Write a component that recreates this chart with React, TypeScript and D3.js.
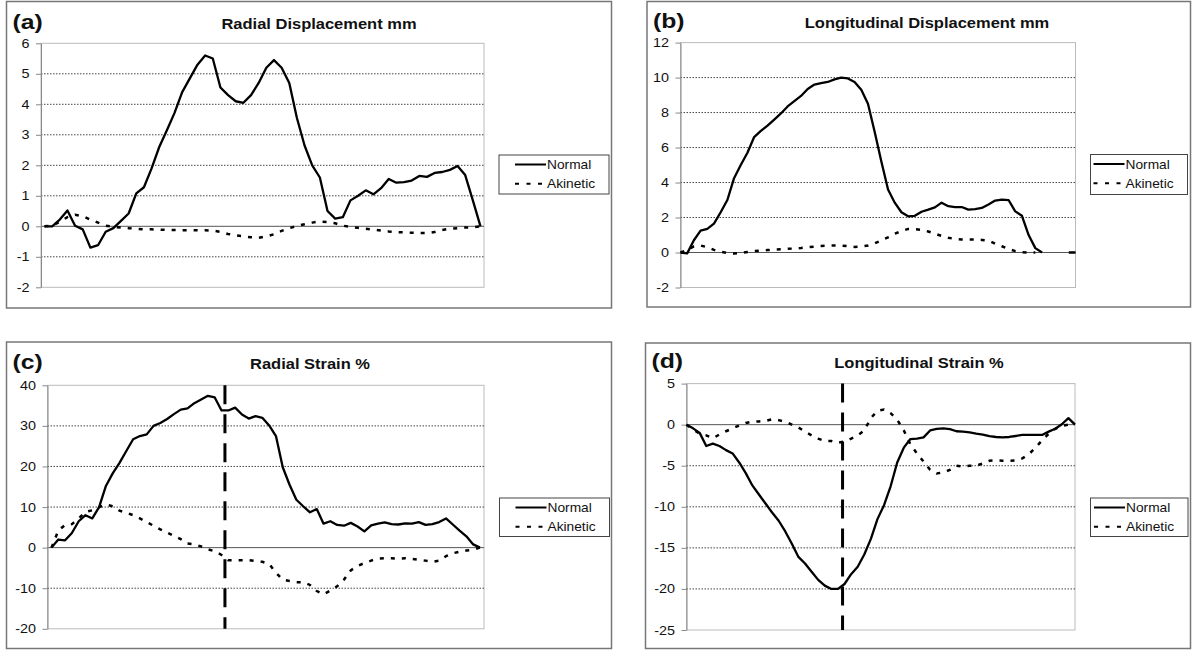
import React, { useEffect, useRef } from 'react';
import * as d3 from 'd3';

const seriesNames = ['Normal', 'Akinetic'];

// (a) radial displacement, mm
const radialDispTicks = [-2, -1, 0, 1, 2, 3, 4, 5, 6];
const radialDispNormal = [
  0, 0, 0.22, 0.52, 0.02, -0.1, -0.7, -0.62, -0.18, -0.06,
  0.18, 0.42, 1.08, 1.28, 1.9, 2.6, 3.15, 3.72, 4.4, 4.85,
  5.3, 5.6, 5.5, 4.55, 4.3, 4.1, 4.05, 4.3, 4.7, 5.2,
  5.45, 5.2, 4.7, 3.55, 2.65, 2.0, 1.6, 0.5, 0.25, 0.3,
  0.85, 1.0, 1.18, 1.05, 1.25, 1.55, 1.43, 1.45, 1.5, 1.65,
  1.62, 1.75, 1.78, 1.85, 1.98, 1.68, 0.85, 0,
];
const radialDispAkinetic = [
  0, 0.02, 0.15, 0.3, 0.38, 0.33, 0.22, 0.12, 0.02, -0.02,
  -0.04, -0.06, -0.08, -0.1, -0.1, -0.11, -0.12, -0.12, -0.13, -0.13,
  -0.13, -0.13, -0.14, -0.18, -0.25, -0.3, -0.33, -0.36, -0.38, -0.33,
  -0.26, -0.15, -0.06, 0.01, 0.07, 0.12, 0.16, 0.14, 0.1, 0.02,
  -0.02, -0.05, -0.08, -0.11, -0.14, -0.17, -0.19, -0.2, -0.21, -0.22,
  -0.22, -0.19, -0.12, -0.08, -0.06, -0.04, -0.03, 0,
];

// (b) longitudinal displacement, mm
const longDispTicks = [-2, 0, 2, 4, 6, 8, 10, 12];
const longDispNormal = [
  0, -0.05, 0.7, 1.25, 1.35, 1.65, 2.3, 3.0, 4.25, 5.0,
  5.7, 6.6, 6.95, 7.25, 7.6, 7.95, 8.35, 8.65, 8.95, 9.35,
  9.6, 9.68, 9.75, 9.9, 10.0, 9.95, 9.75, 9.3, 8.5, 6.9,
  5.2, 3.6, 2.85, 2.3, 2.07, 2.1, 2.33, 2.45, 2.58, 2.85,
  2.65, 2.6, 2.6, 2.45, 2.48, 2.55, 2.75, 2.97, 3.02, 3.0,
  2.35, 2.1, 1.0, 0.25, 0, null, null, null, 0, 0,
];
const longDispAkinetic = [
  0, 0.15, 0.35, 0.4, 0.3, 0.15, 0.05, -0.03, -0.06, -0.03,
  0.03, 0.08, 0.11, 0.14, 0.17, 0.19, 0.21, 0.23, 0.26, 0.3,
  0.34, 0.37, 0.39, 0.4, 0.4, 0.36, 0.32, 0.34, 0.4, 0.52,
  0.7, 0.87, 1.08, 1.22, 1.35, 1.33, 1.3, 1.2, 1.08, 0.95,
  0.84, 0.78, 0.75, 0.74, 0.74, 0.72, 0.68, 0.5, 0.36, 0.21,
  0.08, 0.02, 0, 0, null, null, null, null, null, null,
];

// (c) radial strain, %
const radialStrainTicks = [-20, -10, 0, 10, 20, 30, 40];
const radialStrainNormal = [
  0, 2.0, 1.8, 3.6, 6.5, 8.0, 7.2, 10, 15.2, 18.3,
  20.9, 23.8, 26.7, 27.5, 27.9, 30.0, 30.7, 31.7, 32.9, 34.0,
  34.3, 35.6, 36.5, 37.4, 37.0, 33.8, 33.8, 34.5, 32.8, 31.8,
  32.4, 32.0, 30.1, 27.5, 19.8, 15.5, 11.8, 10.2, 8.7, 9.5,
  5.9, 6.5, 5.6, 5.4, 6.1, 5.2, 4.0, 5.5, 5.9, 6.2,
  5.8, 5.7, 6.0, 5.9, 6.3, 5.6, 5.8, 6.3, 7.2, 5.7,
  4.2, 2.8, 0.8, 0,
];
const radialStrainAkinetic = [
  0, 4.2, 5.6, 5.8, 7.2, 8.8, 9.2, 10.0, 10.6, 10.2,
  9.1, 8.6, 8.0, 7.2, 6.3, 5.4, 4.5, 3.7, 2.9, 2.1,
  1.0, 0.8, 0.3, -0.4, -0.9, -1.8, -3.1, -3.1, -3.1, -3.1,
  -3.3, -3.5, -4.0, -6.2, -7.9, -8.2, -8.5, -8.5, -9.2, -10.7,
  -11.5, -10.6, -9.5, -7.9, -5.6, -4.5, -3.8, -3.2, -2.7, -2.6,
  -2.6, -2.7, -2.6, -2.8, -3.0, -3.2, -3.5, -3.2, -2.1, -1.4,
  -1.0, -0.7, -0.5, 0,
];
const radialStrainES = 25.5;

// (d) longitudinal strain, %
const longStrainTicks = [-25, -20, -15, -10, -5, 0, 5];
const longStrainNormal = [
  0, -0.45, -1.0, -2.6, -2.3, -2.6, -3.1, -3.5, -4.6, -5.9,
  -7.4, -8.5, -9.6, -10.7, -11.7, -13.0, -14.5, -16.1, -16.9, -17.9,
  -18.9, -19.6, -20.0, -20.0, -19.4, -18.2, -17.3, -15.8, -13.9, -11.5,
  -9.8, -7.5, -4.6, -2.8, -1.75, -1.7, -1.55, -0.7, -0.5, -0.45,
  -0.55, -0.8, -0.85, -0.95, -1.1, -1.2, -1.4, -1.5, -1.55, -1.5,
  -1.38, -1.25, -1.25, -1.25, -1.25, -0.85, -0.5, 0.05, 0.8, 0,
];
const longStrainAkinetic = [
  0, -0.6, -1.1, -1.3, -1.65, -1.2, -0.8, -0.45, -0.1, 0.2,
  0.35, 0.4, 0.45, 0.65, 0.55, 0.35, 0.0, -0.35, -0.85, -1.3,
  -1.7, -2.0, -2.0, -2.2, -2.05, -1.7, -1.3, -0.7, 0.8, 1.7,
  1.85, 1.4, 0.6, -0.7, -2.4, -3.5, -4.5, -5.5, -5.95, -5.8,
  -5.5, -5.0, -5.1, -5.0, -5.0, -4.7, -4.4, -4.35, -4.4, -4.4,
  -4.35, -4.1, -3.6, -2.8, -1.9, -1.1, -0.5, -0.15, 0, 0,
];
const longStrainES = 23.7;

type Box = { x: number; y: number; w: number; h: number };
type PanelCfg = {
  label: string;
  title: string;
  titleX: number;
  titleY: number;
  ticks: number[];
  normal: (number | null)[];
  akinetic: (number | null)[];
  es?: number;
  frame: Box;
  plot: { l: number; r: number; t: number; b: number };
  pad: number;
  legend: Box;
};

const panels: PanelCfg[] = [
  {
    label: '(a)', title: 'Radial Displacement mm', titleX: 319, titleY: 28.5,
    ticks: radialDispTicks, normal: radialDispNormal, akinetic: radialDispAkinetic,
    frame: { x: 6.5, y: 1.5, w: 605, h: 306.5 },
    plot: { l: 41, r: 484, t: 43.3, b: 287.3 }, pad: 3.5,
    legend: { x: 499, y: 155, w: 110, h: 39 },
  },
  {
    label: '(b)', title: 'Longitudinal Displacement mm', titleX: 927, titleY: 28,
    ticks: longDispTicks, normal: longDispNormal, akinetic: longDispAkinetic,
    frame: { x: 647, y: 1.5, w: 543.5, h: 305.5 },
    plot: { l: 680.5, r: 1075.5, t: 42.6, b: 287.5 }, pad: 0,
    legend: { x: 1090.5, y: 154.5, w: 97, h: 40 },
  },
  {
    label: '(c)', title: 'Radial Strain %', titleX: 310, titleY: 369,
    ticks: radialStrainTicks, normal: radialStrainNormal, akinetic: radialStrainAkinetic,
    es: radialStrainES,
    frame: { x: 6.5, y: 342, w: 605, h: 306.5 },
    plot: { l: 47.5, r: 484, t: 385.3, b: 628.8 }, pad: 4,
    legend: { x: 499.5, y: 498, w: 110, h: 38.5 },
  },
  {
    label: '(d)', title: 'Longitudinal Strain %', titleX: 919, titleY: 368,
    ticks: longStrainTicks, normal: longStrainNormal, akinetic: longStrainAkinetic,
    es: longStrainES,
    frame: { x: 645.5, y: 343, w: 545, h: 305.5 },
    plot: { l: 686.5, r: 1075, t: 383.6, b: 630 }, pad: 0,
    legend: { x: 1090.5, y: 498, w: 97.5, h: 38.5 },
  },
];

const FONT = '"Liberation Sans", Arial, sans-serif';

// the source figure is slightly stretched sideways, so text gets a small x-scale
function addText(g: any, str: string, x: number, y: number, size: number, sx: number, bold = false, anchor = 'start') {
  return g.append('text').text(str)
    .attr('transform', `translate(${x},${y}) scale(${sx},1)`)
    .attr('text-anchor', anchor)
    .attr('font-family', FONT).attr('font-size', size)
    .attr('font-weight', bold ? 'bold' : 'normal')
    .attr('fill', '#111');
}

function Panel({ cfg }: { cfg: PanelCfg }) {
  const ref = useRef<SVGGElement>(null);
  useEffect(() => {
    const g = d3.select(ref.current);
    g.selectAll('*').remove();
    const { frame, plot, legend, ticks } = cfg;
    const n = cfg.normal.length;
    const lo = ticks[0];
    const hi = ticks[ticks.length - 1];
    const x = d3.scaleLinear().domain([0, n - 1]).range([plot.l + cfg.pad, plot.r - cfg.pad]);
    const y = d3.scaleLinear().domain([lo, hi]).range([plot.b, plot.t]);

    g.append('rect')
      .attr('x', frame.x).attr('y', frame.y).attr('width', frame.w).attr('height', frame.h)
      .attr('fill', '#fff').attr('stroke', '#777').attr('stroke-width', 1.5);

    g.append('rect')
      .attr('x', plot.l).attr('y', plot.t).attr('width', plot.r - plot.l).attr('height', plot.b - plot.t)
      .attr('fill', '#fff').attr('stroke', '#bbb').attr('stroke-width', 1);

    g.selectAll('.grid')
      .data(ticks.filter((t) => t !== 0 && t !== lo && t !== hi))
      .join('line')
      .attr('class', 'grid')
      .attr('x1', plot.l).attr('x2', plot.r)
      .attr('y1', (d) => y(d)).attr('y2', (d) => y(d))
      .attr('stroke', '#444').attr('stroke-width', 1).attr('stroke-dasharray', '1.5,1.5');

    g.append('line')
      .attr('x1', plot.l).attr('x2', plot.r)
      .attr('y1', y(0)).attr('y2', y(0))
      .attr('stroke', '#555').attr('stroke-width', 1);

    const axis = d3.axisLeft(y).tickValues(ticks).tickSize(5).tickSizeOuter(0).tickPadding(5)
      .tickFormat((d) => String(d));
    const ag = g.append('g').attr('transform', `translate(${plot.l},0)`).call(axis);
    ag.select('.domain').attr('stroke', '#888');
    ag.selectAll('.tick line').attr('stroke', '#888');
    ag.selectAll('.tick text')
      .attr('transform', 'scale(1.15,1)')
      .attr('font-family', FONT).attr('font-size', 12.5).attr('fill', '#111');

    if (cfg.es !== undefined) {
      g.append('line')
        .attr('x1', x(cfg.es)).attr('x2', x(cfg.es))
        .attr('y1', plot.t).attr('y2', plot.b)
        .attr('stroke', '#000').attr('stroke-width', 3).attr('stroke-dasharray', '19,10');
    }

    const line = d3.line<number | null>()
      .defined((d) => d !== null)
      .x((d, i) => x(i))
      .y((d) => y(d as number));

    g.append('path').datum(cfg.akinetic).attr('d', line)
      .attr('fill', 'none').attr('stroke', '#000').attr('stroke-width', 2.5)
      .attr('stroke-dasharray', '4,7');
    g.append('path').datum(cfg.normal).attr('d', line)
      .attr('fill', 'none').attr('stroke', '#000').attr('stroke-width', 2.3)
      .attr('stroke-linejoin', 'round');

    addText(g, cfg.label, frame.x + 6, cfg.titleY, 21, 1.18, true);
    addText(g, cfg.title, cfg.titleX, cfg.titleY, 15, 1.1, true, 'middle');

    const lg = g.append('g');
    lg.append('rect')
      .attr('x', legend.x).attr('y', legend.y).attr('width', legend.w).attr('height', legend.h)
      .attr('fill', '#fff').attr('stroke', '#444').attr('stroke-width', 1);
    const lineStart = legend.x + legend.w - 94;
    seriesNames.forEach((name, i) => {
      const cy = legend.y + 9.5 + i * 19.3;
      lg.append('line')
        .attr('x1', lineStart).attr('x2', lineStart + 31)
        .attr('y1', cy).attr('y2', cy)
        .attr('stroke', '#000').attr('stroke-width', 2)
        .attr('stroke-dasharray', i === 1 ? '4,7.5' : null);
      addText(lg, name, lineStart + 32, cy + 4.5, 12.5, 1.1);
    });
  }, [cfg]);
  return <g ref={ref} />;
}

export default function App() {
  return (
    <svg width={1192} height={651}
      style={{ position: 'absolute', left: 0, top: 0, background: '#fff' }}>
      {panels.map((p) => <Panel key={p.label} cfg={p} />)}
    </svg>
  );
}
